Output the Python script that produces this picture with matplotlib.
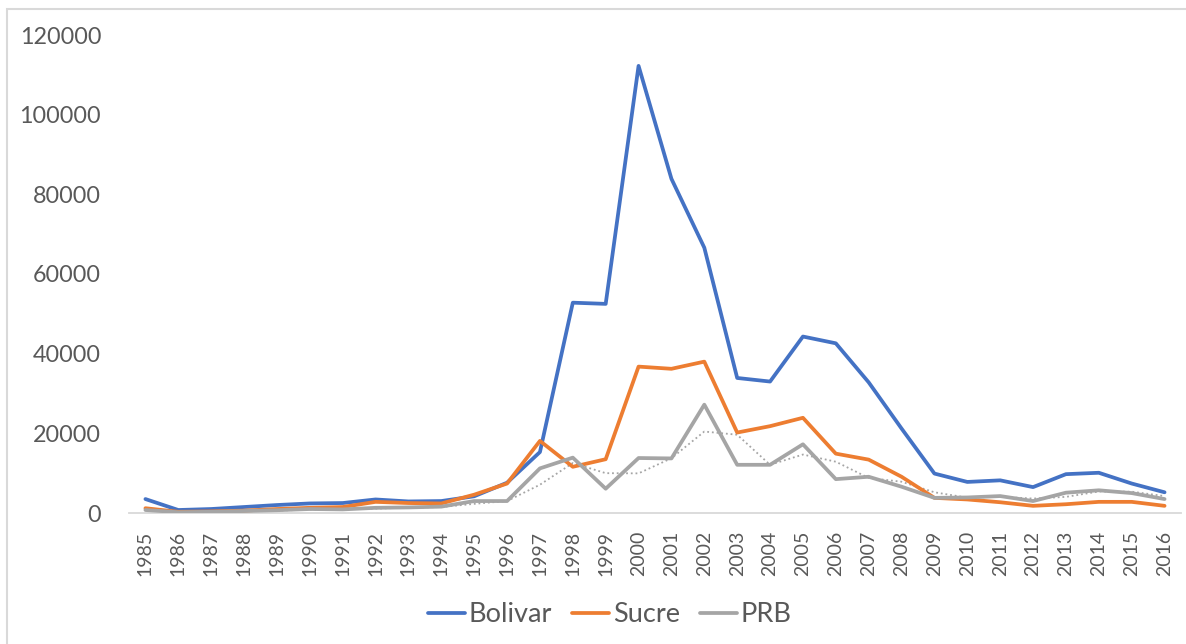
import matplotlib
matplotlib.use("Agg")
import matplotlib.pyplot as plt
from matplotlib.patches import Rectangle
import numpy as np
import pandas as pd

plt.rcParams['font.family'] = ['Lato', 'DejaVu Sans']

years = [str(y) for y in range(1985, 2017)]
bolivar = [3500, 750, 1000, 1500, 2000, 2400, 2500, 3400, 2900, 3000, 4200, 7600,
           15300, 52800, 52500, 112250, 83900, 66600, 33900, 33000, 44300, 42600,
           32800, 21200, 9900, 7800, 8200, 6500, 9750, 10100, 7400, 5200]
sucre = [1200, 300, 400, 600, 1000, 1300, 1500, 2800, 2500, 2400, 4600, 7400,
         18100, 11600, 13500, 36750, 36200, 38000, 20200, 21800, 23900, 14900,
         13400, 9100, 3800, 3400, 2700, 1800, 2200, 2800, 2800, 1800]
prb = [750, 200, 300, 500, 700, 1000, 900, 1300, 1400, 1600, 3000, 3000,
       11200, 13900, 6100, 13800, 13700, 27200, 12100, 12100, 17250, 8500,
       9100, 6600, 3800, 3900, 4250, 3000, 5100, 5700, 5000, 3500]
series_names = ["Bolivar", "Sucre", "PRB"]
yticks = [0, 20000, 40000, 60000, 80000, 100000, 120000]

# 2-period moving average trendline of PRB (as in the source chart)
prb_trend = pd.Series(prb).rolling(2).mean().to_numpy()

W, H = 1186, 644
fig = plt.figure(figsize=(W / 100, H / 100), dpi=100)
fig.patch.set_facecolor('white')

# chart border (extends past right/bottom edges)
fig.patches.append(Rectangle((6.5 / W, -0.1), 1.2, 1.1 - 9 / H,
                             transform=fig.transFigure, fill=False,
                             edgecolor='#D9D9D9', linewidth=1.5))

ax = fig.add_axes([129 / W, 1 - 513 / H, (1181 - 129) / W, (513 - 35) / H])
x = np.arange(len(years))
colors = ['#4472C4', '#ED7D31', '#A5A5A5']
for vals, name, c in zip([bolivar, sucre, prb], series_names, colors):
    ax.plot(x, vals, color=c, linewidth=2.7, label=name,
            solid_joinstyle='round', solid_capstyle='round', zorder=3)
ax.plot(x, prb_trend, color='#A5A5A5', linewidth=1.3,
        linestyle=(0, (1, 1.6)), zorder=2)

ax.set_xlim(-0.5, len(years) - 0.5)
ax.set_ylim(0, 120000)
ax.set_yticks(yticks)
ax.set_yticklabels([str(t) for t in yticks], fontsize=16.8, color='#595959')
ax.set_xticks(x)
ax.set_xticklabels(years, rotation=90, fontsize=14, color='#595959')
ax.tick_params(axis='y', length=0, pad=20)
ax.tick_params(axis='x', length=0, pad=13)
for s in ['top', 'right', 'left']:
    ax.spines[s].set_visible(False)
ax.spines['bottom'].set_color('#D9D9D9')
ax.spines['bottom'].set_linewidth(1.3)
ax.set_facecolor('none')

leg = fig.legend(loc='center', bbox_to_anchor=(610 / W, 1 - 615 / H), ncol=3,
                 frameon=False, fontsize=19.5, handlelength=1.35,
                 handletextpad=0.15, columnspacing=0.75,
                 labelcolor='#595959')
for line in leg.get_lines():
    line.set_linewidth(2.7)

fig.savefig('out.png', dpi=100, facecolor='white')
